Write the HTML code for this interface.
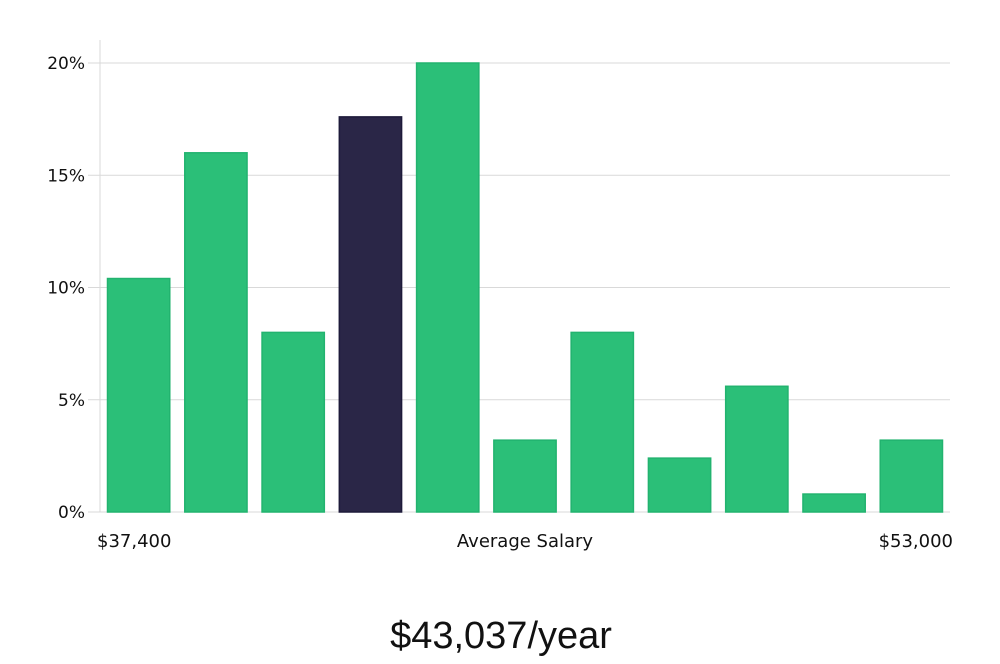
<!DOCTYPE html>
<html><head><meta charset="utf-8">
<style>
html,body{margin:0;padding:0;background:#fff;}
body{width:1000px;height:660px;overflow:hidden;font-family:"DejaVu Sans","Liberation Sans",sans-serif;}
</style></head>
<body>
<svg id="chart" width="1000" height="660" xmlns="http://www.w3.org/2000/svg"></svg>
<script>
const categories = ["b1","b2","b3","b4","b5","b6","b7","b8","b9","b10","b11"];
const values = [10.4, 16.0, 8.0, 17.6, 20.0, 3.2, 8.0, 2.4, 5.6, 0.8, 3.2];
const highlightIndex = 3;
const yTicks = [0, 5, 10, 15, 20];
const yTickLabels = ["0%", "5%", "10%", "15%", "20%"];
const xLabels = ["$37,400", "Average Salary", "$53,000"];
const titleText = "$43,037/year";

const NS = "http://www.w3.org/2000/svg";
const svg = document.getElementById("chart");
const x0 = 100, x1 = 950, yBase = 512, yTop = 63, yMax = 20;
const yScale = v => yBase - (v / yMax) * (yBase - yTop);
const band = (x1 - x0) / categories.length;
const xScale = i => x0 + i * band;
function mk(tag, attrs) { const e = document.createElementNS(NS, tag); for (const k in attrs) e.setAttribute(k, attrs[k]); svg.appendChild(e); return e; }

yTicks.forEach((t, i) => {
  const y = yScale(t);
  const g = mk("line", {x1: 88, x2: x1, y1: y, y2: y, stroke: "#d9d9d9", "stroke-width": 1});
  
  
  const lb = mk("text", {x: 85, y: y + 6, "text-anchor": "end", "font-size": 17, fill: "#111"});
  lb.textContent = yTickLabels[i];
  
  
});
const ax = mk("line", {x1: x0, x2: x0, y1: 40, y2: yBase, stroke: "#d9d9d9", "stroke-width": 1});



values.forEach((v, i) => {
  const pad = 7.5;
  const dark = i === highlightIndex;
  const r = mk("rect", {x: xScale(i) + pad, y: yScale(v), width: band - 2 * pad, height: yBase - yScale(v),
    fill: dark ? "#2a2647" : "#2bbf78", stroke: dark ? "#1d1a3a" : "#22b36f", "stroke-width": 1.5});
  
  
});

const xl = [[97, "start"], [525, "middle"], [953, "end"]];
xLabels.forEach((s, i) => {
  const t = mk("text", {x: xl[i][0], y: 547, "text-anchor": xl[i][1], "font-size": 18, fill: "#111"});
  t.textContent = s;
  
  
});
const ti = mk("text", {x: 501, y: 648, "text-anchor": "middle", "font-size": 38, fill: "#111",
  "font-family": "'Liberation Sans Narrow','Liberation Sans',sans-serif", "font-weight": 300});
ti.textContent = titleText;


</script>
</body></html>
